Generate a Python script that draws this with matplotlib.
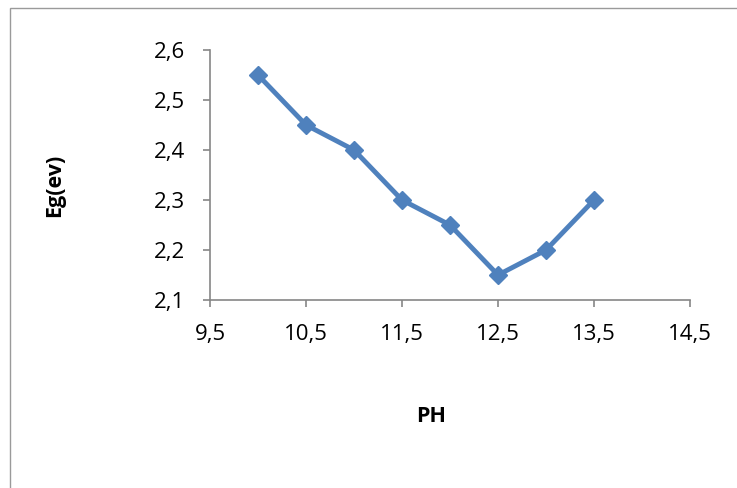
import matplotlib.pyplot as plt
from matplotlib.ticker import FuncFormatter, MultipleLocator
from matplotlib.patches import Rectangle

ph = [10, 10.5, 11, 11.5, 12, 12.5, 13, 13.5]
eg = [2.55, 2.45, 2.40, 2.30, 2.25, 2.15, 2.20, 2.30]
x_ticks = [9.5, 10.5, 11.5, 12.5, 13.5, 14.5]

plt.rcParams['font.family'] = ['Open Sans', 'DejaVu Sans']

fig = plt.figure(figsize=(7.37, 4.88), dpi=100)
# chart frame (cut off at right and bottom)
fig.patches.append(Rectangle((10 / 737, -0.05), 1.0, 1 - 8 / 488 + 0.05,
                             transform=fig.transFigure, fill=False,
                             edgecolor='#9a9a9a', linewidth=1.0))

ax = fig.add_axes([210 / 737, 188 / 488, 480 / 737, 250 / 488])
ax.plot(ph, eg, color='#4F81BD', linewidth=3.5, marker='D', markersize=9,
        markerfacecolor='#4F81BD', markeredgecolor='#4F81BD')

ax.set_xlim(9.5, 14.5)
ax.set_ylim(2.1, 2.6)
ax.set_xticks(x_ticks)
ax.yaxis.set_major_locator(MultipleLocator(0.1))
fmt = FuncFormatter(lambda v, p: f"{v:.1f}".replace('.', ','))
ax.xaxis.set_major_formatter(fmt)
ax.yaxis.set_major_formatter(fmt)

for s in ['top', 'right']:
    ax.spines[s].set_visible(False)
for s in ['left', 'bottom']:
    ax.spines[s].set_color('#868686')
    ax.spines[s].set_linewidth(1.2)
ax.tick_params(axis='both', direction='out', length=5, width=1.2,
               color='#868686', labelsize=16)
ax.tick_params(axis='x', pad=12)
ax.tick_params(axis='y', pad=13)

ax.set_xlabel('PH', fontsize=15.5, fontweight='bold', va='center')
ax.set_ylabel('Eg(ev)', fontsize=15.5, fontweight='bold', va='center')
ax.xaxis.set_label_coords(0.46, -0.468)
ax.yaxis.set_label_coords(-0.323, 0.46)

fig.savefig('out.png', dpi=100)
